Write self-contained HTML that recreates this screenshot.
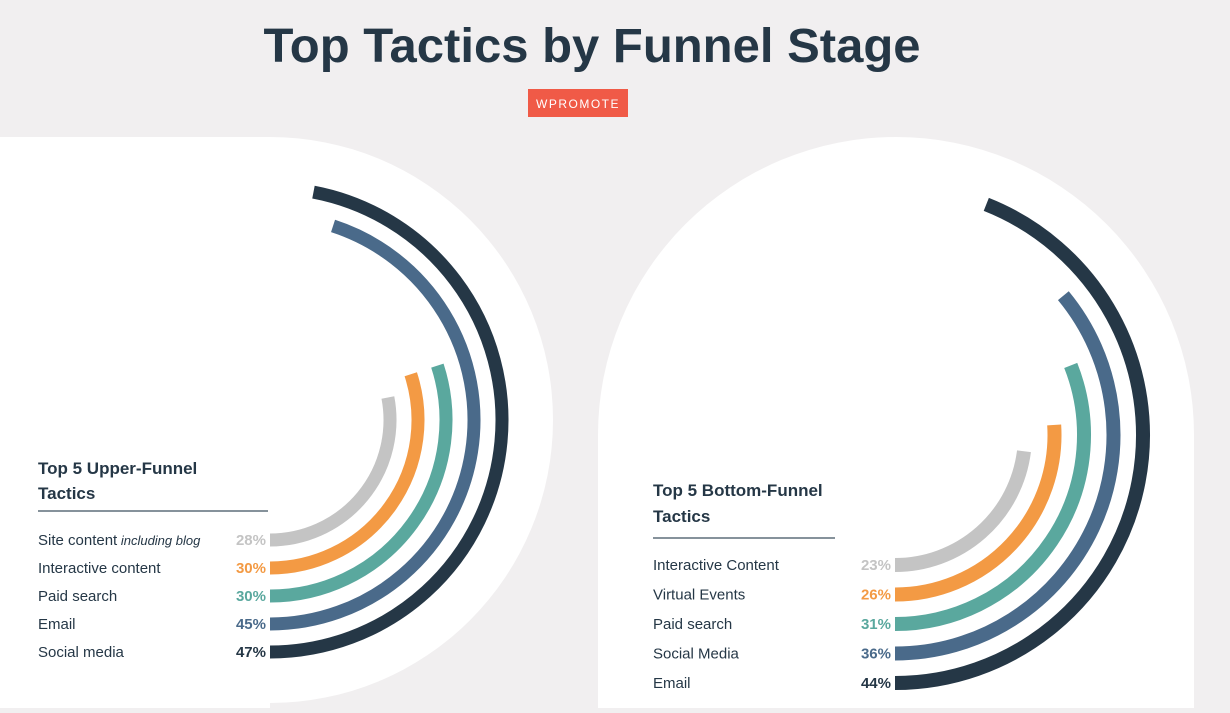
<!DOCTYPE html>
<html><head><meta charset="utf-8"><style>
html,body{margin:0;padding:0;background:#f1eff0;}
body{width:1230px;height:708px;overflow:hidden;font-family:"Liberation Sans",sans-serif;}
</style></head><body>
<svg id="chart" width="1230" height="708" viewBox="0 0 1230 708" xmlns="http://www.w3.org/2000/svg" font-family="Liberation Sans, sans-serif">
  <rect width="1230" height="708" fill="#f1eff0"/>
  <g fill="#fff">
    <rect x="0" y="137" width="270" height="571"/>
    <circle cx="270" cy="420" r="283"/>
  </g>
  <g fill="#fff">
    <circle cx="896" cy="435" r="298"/>
    <rect x="598" y="435" width="596" height="273"/>
  </g>
  <text x="592" y="62" text-anchor="middle" font-size="48" font-weight="bold" fill="#253746" textLength="657" lengthAdjust="spacingAndGlyphs">Top Tactics by Funnel Stage</text>
  <rect x="528" y="89" width="100" height="28" fill="#f05a47"/>
  <text x="578" y="108" text-anchor="middle" font-size="12" fill="#fff" letter-spacing="1.5">WPROMOTE</text>

  <text font-size="17" font-weight="bold" fill="#253746"><tspan x="38" y="474">Top 5 Upper-Funnel</tspan><tspan x="38" y="499">Tactics</tspan></text>
  <line x1="38" y1="511" x2="268" y2="511" stroke="#5f6f7a" stroke-width="1.5"/>
  <text font-size="17" font-weight="bold" fill="#253746"><tspan x="653" y="496">Top 5 Bottom-Funnel</tspan><tspan x="653" y="522">Tactics</tspan></text>
  <line x1="653" y1="538" x2="835" y2="538" stroke="#5f6f7a" stroke-width="1.5"/>
  <g id="left"></g>
  <g id="right"></g>
</svg>
<script>
const leftLabels = ["Site content", "Interactive content", "Paid search", "Email", "Social media"];
const leftValues = [28, 30, 30, 45, 47];
const rightLabels = ["Interactive Content", "Virtual Events", "Paid search", "Social Media", "Email"];
const rightValues = [23, 26, 31, 36, 44];
const colors = ["#c4c4c4", "#f39a44", "#5aa89e", "#4a6a8a", "#253746"];
const NS = "http://www.w3.org/2000/svg";

function angle(v){ return v / 100 * 2 * Math.PI; }

function draw(gid, labels, values, cfg){
  const g = document.getElementById(gid);
  labels.forEach((lab, i) => {
    const r = cfg.r0 + i * cfg.dr;
    const a = angle(values[i]);
    const x0 = cfg.cx, y0 = cfg.cy + r;
    const x1 = cfg.cx + r * Math.sin(a), y1 = cfg.cy + r * Math.cos(a);
    const large = a > Math.PI ? 1 : 0;
    const p = document.createElementNS(NS, "path");
    
    
    p.setAttribute("d", `M${x0},${y0} A${r},${r} 0 ${large} 0 ${x1},${y1}`);
    p.setAttribute("fill", "none");
    p.setAttribute("stroke", colors[i]);
    p.setAttribute("stroke-width", cfg.sw);
    g.appendChild(p);
    const t = document.createElementNS(NS, "text");
    
    
    t.setAttribute("x", cfg.lx);
    t.setAttribute("y", y0 + 5);
    t.setAttribute("font-size", "15");
    t.setAttribute("fill", "#253746");
    t.textContent = lab;
    if (cfg.extra && i === 0) {
      const ts = document.createElementNS(NS, "tspan");
      ts.setAttribute("font-style", "italic");
      ts.setAttribute("font-size", "13");
      ts.textContent = " " + cfg.extra;
      t.appendChild(ts);
    }
    g.appendChild(t);
    const v = document.createElementNS(NS, "text");
    
    
    v.setAttribute("x", cfg.cx - 4);
    v.setAttribute("y", y0 + 5);
    v.setAttribute("text-anchor", "end");
    v.setAttribute("font-size", "15");
    v.setAttribute("font-weight", "bold");
    v.setAttribute("fill", colors[i]);
    v.textContent = values[i] + "%";
    g.appendChild(v);
  });
}
draw("left", leftLabels, leftValues, {cx:270, cy:420, r0:120, dr:28, sw:13, lx:38, extra:"including blog"});
draw("right", rightLabels, rightValues, {cx:895, cy:435, r0:130, dr:29.5, sw:14, lx:653});
</script>
</body></html>
